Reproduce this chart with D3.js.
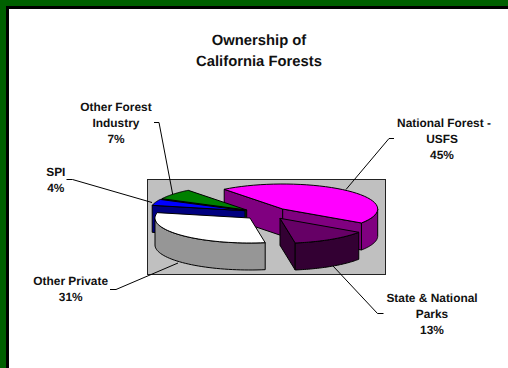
<!DOCTYPE html>
<html>
<head>
<meta charset="utf-8">
<script src="https://cdn.jsdelivr.net/npm/d3@7"></script>
<style>
html,body{margin:0;padding:0;background:#fff;}
svg{display:block;}
text{font-family:"Liberation Sans",Arial,sans-serif;font-weight:bold;fill:#111;text-rendering:geometricPrecision;}
</style>
</head>
<body>
<svg id="chart" width="508" height="368"></svg>
<script>
// Ownership shares, in percent, clockwise from the back-left of the pie
const owners = ["National Forest - USFS", "State & National Parks", "Other Private", "SPI", "Other Forest Industry"];
const shares = [45, 13, 31, 4, 7];
const titleLines = ["Ownership of", "California Forests"];
const labelLines = [
  ["National Forest -", "USFS", "45%"],
  ["State & National", "Parks", "13%"],
  ["Other Private", "31%"],
  ["SPI", "4%"],
  ["Other Forest", "Industry", "7%"]
];

const topFill  = ["#ff00ff", "#660066", "#ffffff", "#0000ff", "#008000"];
const sideFill = ["#800080", "#330033", "#969696", "#000080", "#004000"];

// Where each wedge's tip sits after the slices are pulled apart
const tipX = [282.7, 280, 250, 245, 246.7];
const tipY = [209, 218.3, 218, 210.7, 210];
const radiusX = 95, radiusY = 25, depth = 27;

// Label anchors (centre of the block, first baseline) and leader polylines
const labelX = [442, 432, 70.7, 55.8, 116];
const labelY = [127, 302, 285, 176, 111];
const leaders = [
  [[394, 138.5], [389, 138.5], [346, 189.5]],
  [[383.5, 313.5], [377.5, 313.5], [333, 266]],
  [[110, 289.5], [116, 289.5], [178, 263]],
  [[66.5, 179.5], [72.5, 179.5], [152, 202.5]],
  [[154, 122.5], [159, 122.5], [173, 196]]
];

const svg = d3.select("#chart");

// Slide frame
svg.append("rect").attr("width", 508).attr("height", 368).attr("fill", "#fff");
svg.append("rect").attr("width", 508).attr("height", 6).attr("fill", "#006000");
svg.append("rect").attr("width", 6).attr("height", 368).attr("fill", "#006000");
svg.append("rect").attr("x", 6).attr("y", 6).attr("width", 502).attr("height", 3).attr("fill", "#000");
svg.append("rect").attr("x", 6).attr("y", 6).attr("width", 3).attr("height", 362).attr("fill", "#000");

// Title
svg.append("text").attr("text-anchor", "middle").attr("font-size", 14.8)
  .selectAll("tspan").data(titleLines).join("tspan")
  .attr("x", 259).attr("y", (d, i) => 45 + i * 20.5).text(d => d);

// Plot background
svg.append("rect").attr("x", 147.5).attr("y", 179.5).attr("width", 238).attr("height", 95)
  .attr("fill", "#c0c0c0").attr("stroke", "#222").attr("stroke-width", 1);

// Leader lines run underneath the pie
const line = d3.line();
svg.append("g").attr("fill", "none").attr("stroke", "#000").attr("stroke-width", 1)
  .selectAll("path").data(leaders).join("path").attr("d", line);

// Pie layout, then a tilted projection of each angle onto the page
const rad = d3.scaleLinear().domain([0, 360]).range([0, 2 * Math.PI]);
const pie = d3.pie().sort(null).startAngle(rad(-38)).endAngle(rad(322));
const wedges = pie(shares);

const project = (i, a, drop = 0) => [
  tipX[i] + radiusX * Math.sin(a),
  tipY[i] - radiusY * Math.cos(a) + drop
];
const rimPoints = (i, a0, a1, drop = 0) =>
  d3.range(0, 41).map(k => project(i, a0 + (a1 - a0) * k / 40, drop));

// Radial cut face running from the tip out to angle a
const cutFace = (i, a) => {
  const tip = [tipX[i], tipY[i]], tipLow = [tipX[i], tipY[i] + depth];
  return line([tip, project(i, a), project(i, a, depth), tipLow]) + "Z";
};
// Outer wall, only the part of the rim that faces forward
const outerWall = (i, a0, a1) => {
  const from = Math.max(a0, Math.PI / 2), to = Math.min(a1, 3 * Math.PI / 2);
  if (to <= from) return null;
  return line(rimPoints(i, from, to).concat(rimPoints(i, to, from, depth))) + "Z";
};
const topFace = (i, a0, a1) => line([[tipX[i], tipY[i]]].concat(rimPoints(i, a0, a1))) + "Z";

const pieLayer = svg.append("g").attr("stroke", "#000").attr("stroke-width", 1).attr("stroke-linejoin", "round");
const drawOrder = [0, 1, 4, 3, 2];
drawOrder.forEach(i => {
  const { startAngle: a0, endAngle: a1 } = wedges[i];
  const faces = [];
  // A cut face is visible when it looks toward the viewer
  if (Math.cos(a0) > 0 || Math.sin(a0) < -0.2) faces.push(cutFace(i, a0));
  if (i <= 1) faces.push(cutFace(i, a1));
  const wall = outerWall(i, a0, a1);
  if (wall) faces.push(wall);
  pieLayer.selectAll(null).data(faces).join("path").attr("d", d => d).attr("fill", sideFill[i]);
  pieLayer.append("path").attr("d", topFace(i, a0, a1)).attr("fill", topFill[i]);
});

// Slice labels, one centred block per owner
svg.append("g").attr("font-size", 11.9).attr("text-anchor", "middle")
  .selectAll("text").data(labelLines).join("text")
  .attr("aria-label", (d, i) => owners[i])
  .each(function (lines, i) {
    d3.select(this).selectAll("tspan").data(lines).join("tspan")
      .attr("x", (d, k) => labelX[i] + (i === 0 && k === 0 ? 2 : 0))
      .attr("y", (d, k) => labelY[i] + k * 16.2)
      .text(d => d);
  });
</script>
</body>
</html>
